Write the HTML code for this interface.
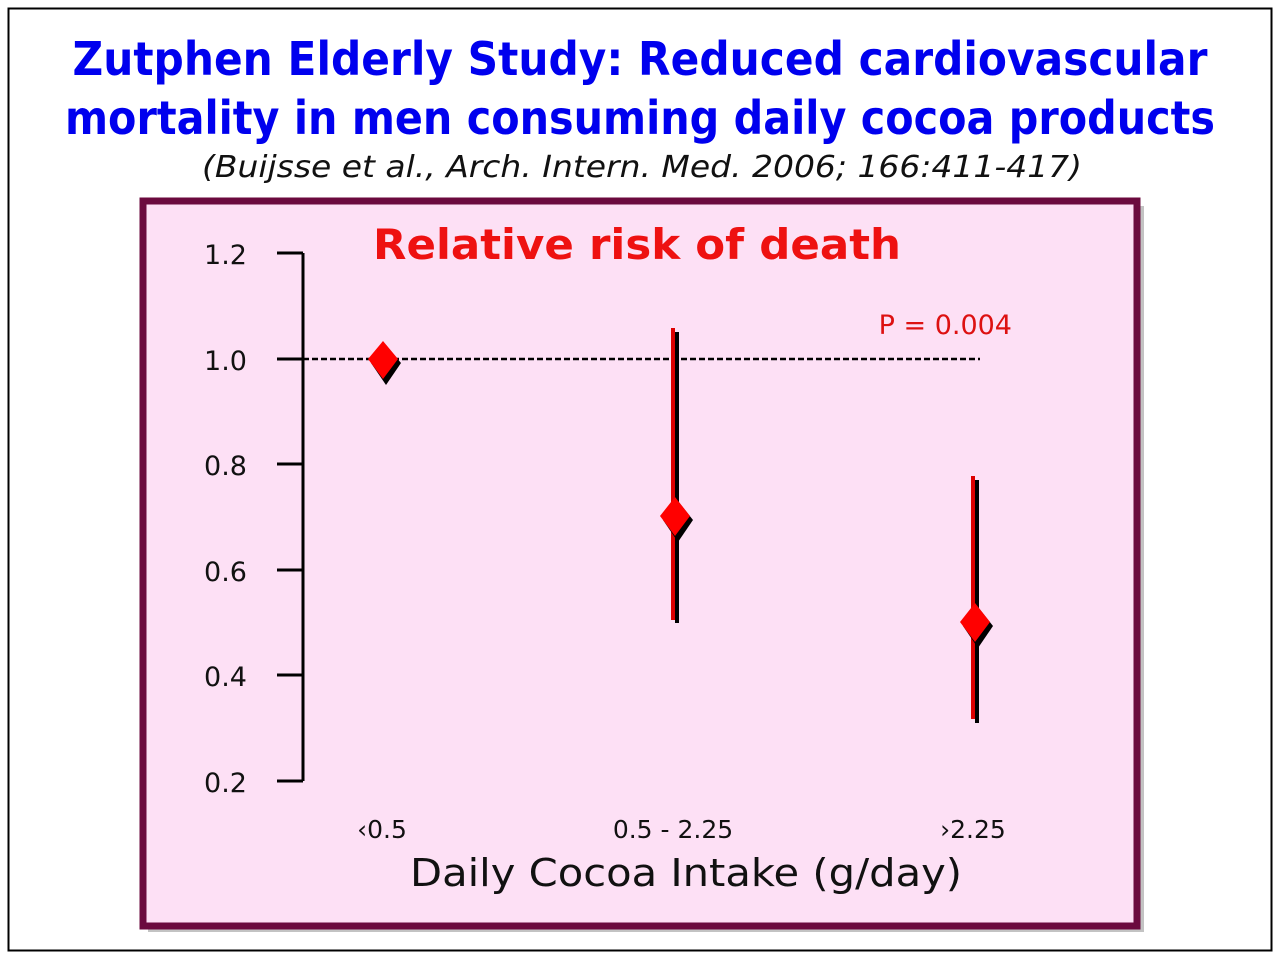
<!DOCTYPE html>
<html><head><style>
body{margin:0;background:#fff;width:1280px;height:959px;overflow:hidden}
svg{display:block}
</style></head><body>
<svg width="1280" height="959" viewBox="0 0 1280 959" xmlns="http://www.w3.org/2000/svg">
<rect x="0" y="0" width="1280" height="959" fill="#fff"/>
<rect x="8.5" y="8.5" width="1263" height="942" fill="none" stroke="#000" stroke-width="2"/>
<g font-family="'Comic Sans MS','DejaVu Sans',sans-serif" font-weight="bold" fill="#0000ee" font-size="46" text-anchor="middle">
<text x="640" y="75" textLength="1135" lengthAdjust="spacingAndGlyphs">Zutphen Elderly Study: Reduced cardiovascular</text>
<text x="640" y="134" textLength="1150" lengthAdjust="spacingAndGlyphs">mortality in men consuming daily cocoa products</text>
</g>
<text x="642" y="177" font-family="'DejaVu Sans',sans-serif" font-style="italic" font-size="30" text-anchor="middle" textLength="880" lengthAdjust="spacingAndGlyphs" fill="#111">(Buijsse et al., Arch. Intern. Med. 2006; 166:411-417)</text>
<rect x="148" y="206" width="996" height="726" fill="#888" opacity="0.5"/>
<rect x="143" y="201" width="994" height="725" fill="#fde0f5" stroke="#6b0a3e" stroke-width="7"/>
<text x="637" y="259" font-family="'Comic Sans MS','DejaVu Sans',sans-serif" font-weight="bold" font-size="42" fill="#ee1111" text-anchor="middle" textLength="528" lengthAdjust="spacingAndGlyphs">Relative risk of death</text>
<g stroke="#000" stroke-width="3" fill="none">
<line x1="303" y1="253" x2="303" y2="781"/>
<line x1="277" y1="253" x2="303" y2="253"/>
<line x1="277" y1="359" x2="303" y2="359"/>
<line x1="277" y1="464" x2="303" y2="464"/>
<line x1="277" y1="570" x2="303" y2="570"/>
<line x1="277" y1="675" x2="303" y2="675"/>
<line x1="277" y1="781" x2="303" y2="781"/>
</g>
<line x1="303" y1="359" x2="980" y2="359" stroke="#000" stroke-width="2.5" stroke-dasharray="6,3"/>
<g font-family="'DejaVu Sans',sans-serif" font-size="27" fill="#111" text-anchor="end">
<text x="247" y="264">1.2</text><text x="247" y="370">1.0</text><text x="247" y="475">0.8</text>
<text x="247" y="581">0.6</text><text x="247" y="686">0.4</text><text x="247" y="792">0.2</text>
</g>
<text x="1012" y="334" font-family="'DejaVu Sans',sans-serif" font-size="27" fill="#dd1111" text-anchor="end">P = 0.004</text>
<!-- error bars -->
<line x1="677" y1="332" x2="677" y2="623" stroke="#000" stroke-width="4"/>
<line x1="673" y1="328" x2="673" y2="620" stroke="#dd0000" stroke-width="4"/>
<line x1="977" y1="480" x2="977" y2="723" stroke="#000" stroke-width="4"/>
<line x1="973" y1="476" x2="973" y2="719" stroke="#dd0000" stroke-width="4"/>
<!-- diamonds -->
<g>
<polygon points="386,345 401,363 386,385 371,363" fill="#000"/>
<polygon points="383,341 398,359 383,379 368,359" fill="#ff0000"/>
<polygon points="678,501 693,520 678,542 663,520" fill="#000"/>
<polygon points="675,497 690,516 675,536 660,516" fill="#ff0000"/>
<polygon points="978,607 993,626 978,648 963,626" fill="#000"/>
<polygon points="975,603 990,622 975,642 960,622" fill="#ff0000"/>
</g>
<g font-family="'DejaVu Sans',sans-serif" font-size="25" fill="#111" text-anchor="middle">
<text x="382" y="838">‹0.5</text>
<text x="673" y="838">0.5 - 2.25</text>
<text x="973" y="838">›2.25</text>
</g>
<text x="686" y="886" font-family="'Comic Sans MS','DejaVu Sans',sans-serif" font-size="38" fill="#111" text-anchor="middle" textLength="552" lengthAdjust="spacingAndGlyphs">Daily Cocoa Intake (g/day)</text>
</svg>
</body></html>
